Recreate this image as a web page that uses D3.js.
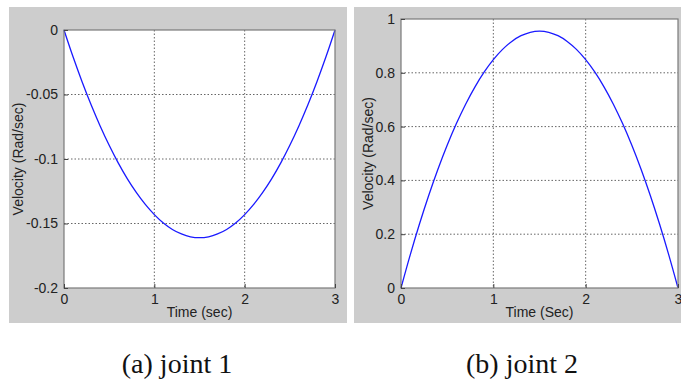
<!DOCTYPE html>
<html><head><meta charset="utf-8">
<script src="https://cdn.jsdelivr.net/npm/d3@7"></script>
<style>
body{margin:0;background:#fff;}
svg{display:block;}
.sans{font-family:'Liberation Sans',Arial,sans-serif;}
.serif{font-family:'Liberation Serif','Times New Roman',serif;}
</style></head>
<body>
<svg id="c" width="681" height="388"></svg>
<script>
// Time samples (sec)
const time = [0,0.1,0.2,0.3,0.4,0.5,0.6,0.7,0.8,0.9,1.0,1.1,1.2,1.3,1.4,1.5,1.6,1.7,1.8,1.9,2.0,2.1,2.2,2.3,2.4,2.5,2.6,2.7,2.8,2.9,3.0];
// Joint 1 velocity (Rad/sec)
const joint1Velocity = [0,-0.0208,-0.0401,-0.0580,-0.0744,-0.0894,-0.1030,-0.1152,-0.1259,-0.1352,-0.1431,-0.1496,-0.1546,-0.1581,-0.1603,-0.1610,-0.1603,-0.1581,-0.1546,-0.1496,-0.1431,-0.1352,-0.1259,-0.1152,-0.1030,-0.0894,-0.0744,-0.0580,-0.0401,-0.0208,0];
// Joint 2 velocity (Rad/sec)
const joint2Velocity = [0,0.1231,0.2377,0.3438,0.4414,0.5305,0.6112,0.6833,0.7470,0.8021,0.8488,0.8870,0.9167,0.9379,0.9507,0.9550,0.9507,0.9379,0.9167,0.8870,0.8488,0.8021,0.7470,0.6833,0.6112,0.5305,0.4414,0.3438,0.2377,0.1231,0];
// Ticks
const xTicks = [0,1,2,3];
const yTicks1 = [0,-0.05,-0.1,-0.15,-0.2];
const yTicks2 = [0,0.2,0.4,0.6,0.8,1];
const xTitles = ["Time (sec)","Time (Sec)"];
const yTitle = "Velocity (Rad/sec)";
const captions = ["(a) joint 1","(b) joint 2"];

const svg = d3.select("#c");

function panel(cfg){
  const g = svg.append("g");
  g.append("rect").attr("x",cfg.bg[0]).attr("y",cfg.bg[1]).attr("width",cfg.bg[2]).attr("height",cfg.bg[3]).attr("fill","#cdcdcd");
  const x = d3.scaleLinear().domain([0,3]).range([cfg.l,cfg.r]);
  const y = d3.scaleLinear().domain(cfg.yDom).range([cfg.b,cfg.t]);
  g.append("rect").attr("x",cfg.l).attr("y",cfg.t).attr("width",cfg.r-cfg.l).attr("height",cfg.b-cfg.t).attr("fill","#fff");
  const grid = g.append("g").attr("stroke","#555").attr("stroke-width",0.9).attr("stroke-dasharray","1.5,2");
  grid.selectAll(".gx").data(xTicks.slice(1,-1)).join("line")
    .attr("x1",d=>x(d)).attr("x2",d=>x(d)).attr("y1",cfg.t).attr("y2",cfg.b);
  const yInner = cfg.yTicks.filter(d=>d!==cfg.yDom[0] && d!==cfg.yDom[1]);
  grid.selectAll(".gy").data(yInner).join("line")
    .attr("x1",cfg.l).attr("x2",cfg.r).attr("y1",d=>y(d)).attr("y2",d=>y(d));
  const line = d3.line().x((d,i)=>x(time[i])).y(d=>y(d)).curve(d3.curveCatmullRom);
  g.append("path").datum(cfg.data).attr("d",line).attr("fill","none").attr("stroke","#1a1aff").attr("stroke-width",1.3);
  g.append("rect").attr("x",cfg.l).attr("y",cfg.t).attr("width",cfg.r-cfg.l).attr("height",cfg.b-cfg.t)
    .attr("fill","none").attr("stroke","#7a7a7a").attr("stroke-width",1.2);
  const xAxis = d3.axisBottom(x).tickValues(xTicks).tickFormat(d3.format("d")).tickSizeInner(-4).tickSizeOuter(0).tickPadding(6);
  const ax = g.append("g").attr("transform",`translate(0,${cfg.b})`).call(xAxis);
  ax.attr("font-family",null).attr("font-size",null);
  ax.select(".domain").remove();
  ax.selectAll("line").attr("stroke","#444");
  ax.selectAll("text").attr("class","sans").style("font-size","14px").attr("fill","#222");
  const yAxis = d3.axisLeft(y).tickValues(cfg.yTicks).tickFormat(cfg.fmt).tickSizeInner(-4).tickSizeOuter(0).tickPadding(6);
  const ay = g.append("g").attr("transform",`translate(${cfg.l},0)`).call(yAxis);
  ay.attr("font-family",null).attr("font-size",null);
  ay.select(".domain").remove();
  ay.selectAll("line").attr("stroke","#444");
  ay.selectAll("text").attr("class","sans").style("font-size","14px").attr("fill","#222");
  g.append("text").attr("class","sans").attr("x",(cfg.l+cfg.r)/2).attr("y",317).attr("text-anchor","middle")
    .style("font-size","14px").attr("fill","#222").text(cfg.xTitle);
  g.append("text").attr("class","sans").attr("transform",`translate(${cfg.yTitleX},${(cfg.t+cfg.b)/2}) rotate(-90)`).attr("text-anchor","middle")
    .style("font-size","14px").attr("fill","#222").text(yTitle);
  svg.append("text").attr("class","serif").attr("x",cfg.capX).attr("y",373).attr("text-anchor","middle")
    .style("font-size","28px").attr("fill","#111").text(cfg.caption);
}

const fmt1 = d=> d===0 ? "0" : String(d);
panel({bg:[9,7,338,316], l:64, r:335, t:30, b:288, yDom:[-0.2,0], yTicks:yTicks1, fmt:fmt1,
  data:joint1Velocity, xTitle:xTitles[0], yTitleX:23, capX:177, caption:captions[0]});
panel({bg:[354,7,327,316], l:401, r:678, t:19, b:288, yDom:[0,1], yTicks:yTicks2, fmt:fmt1,
  data:joint2Velocity, xTitle:xTitles[1], yTitleX:373, capX:522, caption:captions[1]});
</script>
</body></html>
